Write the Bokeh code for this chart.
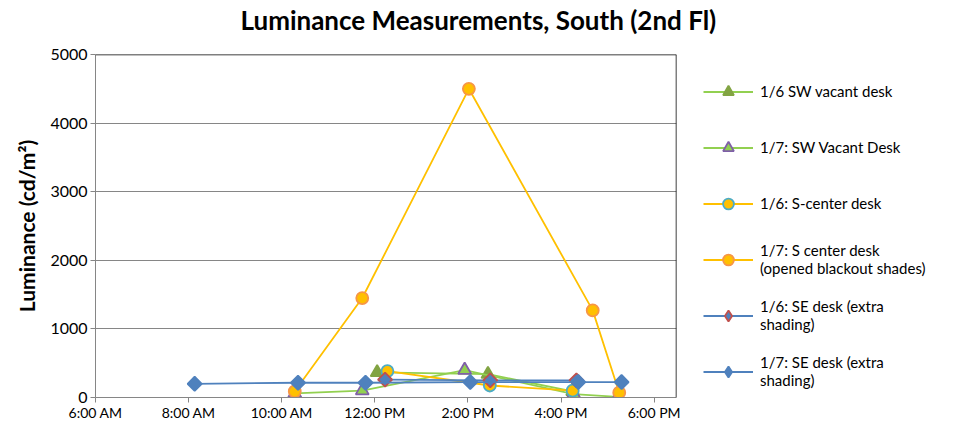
from bokeh.plotting import figure
from bokeh.models import Range1d, FixedTicker, Legend, LegendItem, Span, ColumnDataSource, Title
from bokeh.embed import file_html
from bokeh.resources import INLINE
import numpy as np

FONT = "Lato"

# ---- data (time in hours of day, luminance in cd/m2) ----
x_ticks = [6, 8, 10, 12, 14, 16, 18]
x_tick_labels = ["6:00 AM", "8:00 AM", "10:00 AM", "12:00 PM", "2:00 PM", "4:00 PM", "6:00 PM"]
y_ticks = [0, 1000, 2000, 3000, 4000, 5000]

sw16_t = [12.05, 14.43, 16.25]
sw16_v = [365, 340, 90]

sw17_t = [10.28, 11.73, 13.93, 16.27, 17.22]
sw17_v = [60, 100, 400, 50, 10]

sc16_t = [12.27, 14.47, 16.25]
sc16_v = [385, 175, 100]

sc17_t = [10.28, 11.73, 14.02, 16.68, 17.25]
sc17_v = [90, 1450, 4500, 1270, 70]

se16_t = [12.22, 14.48, 16.33]
se16_v = [260, 250, 250]

se17_t = [8.13, 10.35, 11.8, 14.05, 16.37, 17.3]
se17_v = [200, 215, 215, 225, 225, 225]

labels = [
    "1/6 SW vacant desk",
    "1/7: SW Vacant Desk",
    "1/6: S-center desk",
    "1/7: S center desk\n(opened blackout shades)",
    "1/6: SE desk (extra\nshading)",
    "1/7: SE desk (extra\nshading)",
]

p = figure(frame_width=581, frame_height=343, output_backend="svg", toolbar_location=None,
           x_range=Range1d(6, 18.48), y_range=Range1d(0, 5000),
           min_border_left=95, min_border_right=0, min_border_top=54,
           min_border_bottom=26, title=None)

# spacer between title and plot area, then the title itself
p.add_layout(Title(text=" ", text_font=FONT, text_font_size="8px", standoff=2), "above")
p.add_layout(Title(text="Luminance Measurements, South (2nd Fl)", text_font=FONT,
                   text_font_size="26px", text_color="#000000", align="left",
                   vertical_align="top", offset=145, standoff=6), "above")

p.outline_line_color = None
p.background_fill_color = "white"
p.border_fill_color = "white"

p.xgrid.grid_line_color = None
p.ygrid.grid_line_color = "#868686"
p.ygrid.grid_line_width = 1
p.ygrid.ticker = FixedTicker(ticks=y_ticks)

p.xaxis.ticker = FixedTicker(ticks=x_ticks)
p.xaxis.major_label_overrides = {t: l for t, l in zip(x_ticks, x_tick_labels)}
p.yaxis.ticker = FixedTicker(ticks=y_ticks)

for ax in (p.xaxis[0], p.yaxis[0]):
    ax.axis_line_color = "#868686"
    ax.major_tick_line_color = "#868686"
    ax.major_tick_out = 5
    ax.major_tick_in = 0
    ax.minor_tick_line_color = None
    ax.major_label_text_font = FONT
    ax.major_label_text_color = "#000000"

p.xaxis.major_label_text_font_size = "14px"
p.xaxis.major_label_standoff = 1
p.yaxis.major_label_text_font_size = "16px"
p.yaxis.major_label_standoff = 3
p.yaxis.axis_label = "Luminance (cd/m²)"
p.yaxis.axis_label_text_font = FONT
p.yaxis.axis_label_text_font_size = "21px"
p.yaxis.axis_label_text_font_style = "bold"
p.yaxis.axis_label_text_color = "#000000"
p.yaxis.axis_label_standoff = 8

# black top/right plot-area border
p.add_layout(Span(location=5000, dimension="width", line_color="black", line_width=1.5))
p.add_layout(Span(location=18.48, dimension="height", line_color="black", line_width=1.5))

GREEN = "#92D050"
YELLOW = "#FFC000"
BLUE = "#4F81BD"
LW = 1.8

series = [
    (sw16_t, sw16_v, GREEN, "triangle", "#82A443", "#82A443", 13),
    (sw17_t, sw17_v, GREEN, "triangle", GREEN, "#7F5FA8", 13),
    (sc16_t, sc16_v, YELLOW, "circle", YELLOW, "#4BACC6", 12),
    (sc17_t, sc17_v, YELLOW, "circle", YELLOW, "#F79646", 12),
    (se16_t, se16_v, BLUE, "square", BLUE, "#C0504D", 10),
    (se17_t, se17_v, BLUE, "square", BLUE, BLUE, 10),
]

items = []
for (t, v, lc, mk, fc, oc, sz), lab in zip(series, labels):
    src = ColumnDataSource(dict(t=t, v=v))
    lr = p.line("t", "v", source=src, line_color=lc, line_width=LW)
    if mk == "square":
        sr = p.scatter("t", "v", source=src, marker="square", angle=np.pi / 4,
                       size=sz, fill_color=fc, line_color=oc, line_width=1.8)
        # legend-only proxy (no visible point) so the key shows an upright diamond
        proxy = p.scatter(x=[np.nan], y=[np.nan], marker="diamond", size=sz,
                          fill_color=fc, line_color=oc, line_width=1.8)
        items.append(LegendItem(label=lab, renderers=[lr, proxy]))
    else:
        sr = p.scatter("t", "v", source=src, marker=mk, size=sz,
                       fill_color=fc, line_color=oc, line_width=1.8)
        items.append(LegendItem(label=lab, renderers=[lr, sr]))

legend = Legend(items=items, location=(27, 4), glyph_width=50, glyph_height=27,
                label_height=44, spacing=12, padding=0, margin=0, label_standoff=7,
                label_text_font=FONT, label_text_font_size="15px",
                label_text_color="#000000",
                border_line_color=None, background_fill_color=None)
p.add_layout(legend, "right")

open("out.html", "w").write(file_html(p, INLINE))
